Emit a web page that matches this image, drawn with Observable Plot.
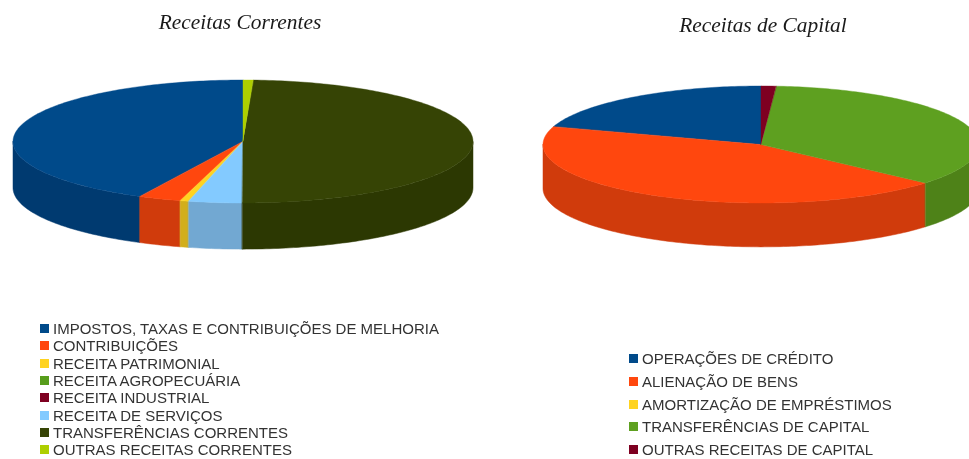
<!DOCTYPE html>
<html lang="pt">
<head>
<meta charset="utf-8">
<script src="https://cdn.jsdelivr.net/npm/d3@7"></script>
<script src="https://cdn.jsdelivr.net/npm/@observablehq/plot@0.6"></script>
<style>
html,body{margin:0;padding:0;background:#fff;width:969px;height:459px;overflow:hidden}
#page{position:relative;width:969px;height:459px;overflow:hidden}
.title{position:absolute;font:italic 21.4px "Liberation Serif",serif;color:#1a1a1a;white-space:nowrap;transform:translateX(-50%);line-height:24px;filter:blur(.35px)}
.chart{position:absolute;top:60px;filter:blur(.4px)}
.legend{position:absolute;font:15px/13px "Liberation Sans",sans-serif;color:#333;white-space:nowrap;filter:blur(.3px)}
.row{position:absolute;left:0;display:flex;align-items:center;height:13px}
.sw{display:inline-block;width:9px;height:9px;margin-right:4px;flex:none}
</style>
</head>
<body>
<div id="page"></div>
<script>
const correntesTitle = "Receitas Correntes";
const correntesLabels = ["IMPOSTOS, TAXAS E CONTRIBUIÇÕES DE MELHORIA","CONTRIBUIÇÕES","RECEITA PATRIMONIAL","RECEITA AGROPECUÁRIA","RECEITA INDUSTRIAL","RECEITA DE SERVIÇOS","TRANSFERÊNCIAS CORRENTES","OUTRAS RECEITAS CORRENTES"];
const correntesValues = [42.6, 3.0, 0.6, 0, 0, 3.75, 49.35, 0.7];
const correntesColors = ["#004a8a","#ff470e","#ffd320","#579d1c","#7e0021","#83caff","#364405","#aecf00"];
const correntesSides  = ["#003a70","#d03b0c","#d2ae1c","#4c8618","#680018","#72a8d2","#2c3802","#90ac00"];

const capitalTitle = "Receitas de Capital";
const capitalLabels = ["OPERAÇÕES DE CRÉDITO","ALIENAÇÃO DE BENS","AMORTIZAÇÃO DE EMPRÉSTIMOS","TRANSFERÊNCIAS DE CAPITAL","OUTRAS RECEITAS DE CAPITAL"];
const capitalValues = [20.1, 43.5, 0, 35.3, 1.1];
const capitalColors = ["#004a8a","#ff470e","#ffd320","#5ea020","#7e0021"];
const capitalSides  = ["#003a70","#d03b0c","#d2ae1c","#4e8218","#680018"];

// Builds the ring of sample rows for each slice, counter-clockwise from the top.
function slices(values, tops, sides) {
  const total = d3.sum(values);
  const top = [], side = [];
  let a0 = 0;
  values.forEach((v, i) => {
    const a1 = a0 + v / total * 360;
    if (v > 0) {
      const ring = (from, to) => {
        const n = Math.max(1, Math.ceil(to - from));
        return d3.range(n + 1).map(k => from + (to - from) * k / n);
      };
      for (const a of ring(a0, a1)) {
        const r = a * Math.PI / 180;
        top.push({slice: i, x: -Math.sin(r), y: -Math.cos(r), color: tops[i]});
      }
      const s0 = Math.max(a0, 90), s1 = Math.min(a1, 270);
      if (s1 > s0) for (const a of ring(s0, s1)) {
        const r = a * Math.PI / 180;
        side.push({slice: i, x: -Math.sin(r), y: -Math.cos(r), color: sides[i]});
      }
    }
    a0 = a1;
  });
  return {top, side};
}

function pie(values, tops, sides, {width, height, xRange, yRange, depth}) {
  const {top, side} = slices(values, tops, sides);
  return Plot.plot({
    width, height, margin: 0,
    x: {domain: [-1, 1], range: xRange, axis: null},
    y: {domain: [-1, 1], range: yRange, axis: null},
    color: {type: "identity"},
    marks: [
      Plot.area(side, {x1: "x", x2: "x", y1: "y", y2: d => d.y + depth, z: "slice", fill: "color", stroke: "color", strokeWidth: 0.5, clip: true}),
      Plot.area(top, {x1: () => 0, y1: () => 0, x2: "x", y2: "y", z: "slice", fill: "color", stroke: "color", strokeWidth: 0.4, clip: true})
    ]
  });
}

const page = document.getElementById("page");
function place(node, cls, style) { node.classList.add(cls); Object.assign(node.style, style); page.appendChild(node); return node; }
function title(text, cx, y) {
  const d = document.createElement("div"); d.textContent = text;
  place(d, "title", {left: cx + "px", top: y + "px"});
}
function legend(labels, colors, left, firstY, pitch) {
  const l = document.createElement("div");
  labels.forEach((t, i) => {
    const r = document.createElement("div"); r.className = "row";
    r.style.top = (i * pitch) + "px";
    const s = document.createElement("span"); s.className = "sw"; s.style.background = colors[i];
    r.appendChild(s); r.appendChild(document.createTextNode(t)); l.appendChild(r);
  });
  place(l, "legend", {left: left + "px", top: firstY + "px"});
}

title(correntesTitle, 240, 10);
title(capitalTitle, 763, 13);

place(pie(correntesValues, correntesColors, correntesSides,
  {width: 484, height: 200, xRange: [13, 473], yRange: [20, 143], depth: 0.75}), "chart", {left: "0px"});
place(pie(capitalValues, capitalColors, capitalSides,
  {width: 484, height: 200, xRange: [58, 494], yRange: [26, 143], depth: 0.75}), "chart", {left: "485px"});

legend(correntesLabels, correntesColors, 40, 322, 17.3);
legend(capitalLabels, capitalColors, 629, 352, 22.8);
</script>
</body>
</html>
